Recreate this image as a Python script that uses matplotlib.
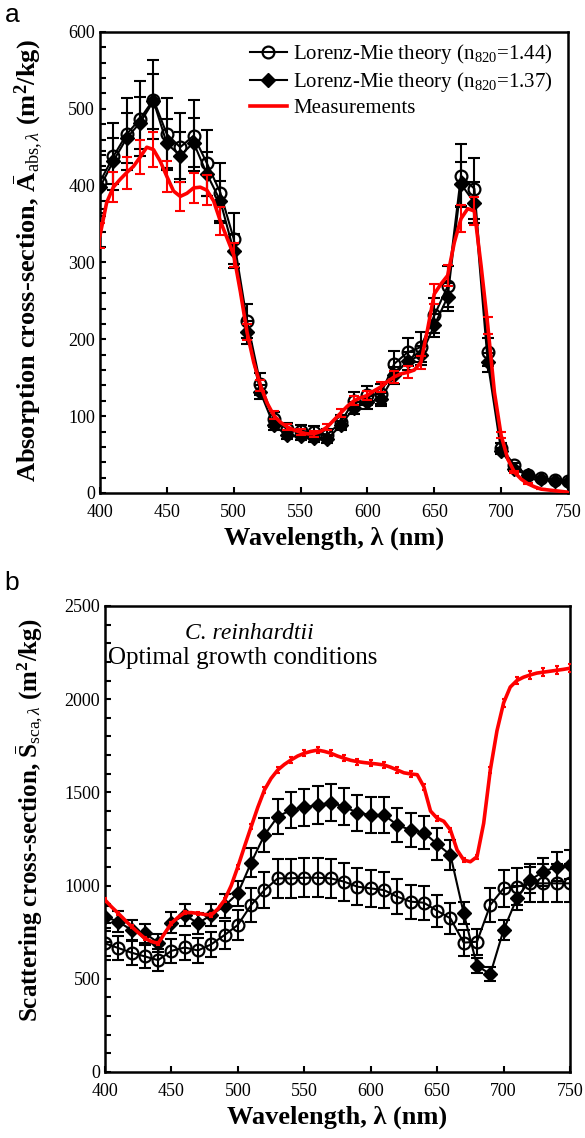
import numpy as np
import matplotlib
matplotlib.use('Agg')
import matplotlib.pyplot as plt
from matplotlib.ticker import MultipleLocator

plt.rcParams['font.family'] = ['Liberation Serif', 'DejaVu Serif']
plt.rcParams['mathtext.fontset'] = 'custom'
plt.rcParams['mathtext.rm'] = 'Liberation Serif'
plt.rcParams['mathtext.it'] = 'Liberation Serif:italic'
plt.rcParams['mathtext.bf'] = 'Liberation Serif:bold'

# wavelengths of the Lorenz-Mie points (nm)
wl = np.arange(400, 751, 10)
# measurement curve wavelengths (nm)
wl_meas = np.arange(400, 751, 5)

# (a) absorption cross-section (m2/kg)
abs_n144 = [405, 438, 467, 487, 512, 467, 450, 465, 429, 391, 331, 224, 142, 96, 83, 81, 79, 76,
            92, 120, 127, 129, 168, 183, 190, 231, 269, 413, 396, 183, 59, 36, 23, 19, 17, 15]
abs_n137 = [398, 432, 462, 482, 510, 455, 439, 456, 415, 380, 315, 209, 131, 88, 75, 74, 72, 70,
            88, 111, 118, 122, 153, 172, 179, 218, 255, 402, 378, 170, 55, 31, 23, 18, 16, 14]
abs_meas = [335, 378, 398, 408, 417, 425, 437, 450, 447, 432, 412, 393, 386, 390, 397, 398, 394, 380,
            354, 332, 310, 262, 209, 170, 140, 117, 101, 92, 86, 82, 79, 77, 77, 80, 86, 95,
            104, 113, 120, 124, 127, 133, 138, 145, 151, 155, 157, 160, 170, 213, 259, 272, 283, 326,
            357, 370, 367, 296, 218, 131, 75, 44, 27, 18, 12, 8, 5, 4, 3, 2, 1]

# (b) scattering cross-section (m2/kg)
sca_n144 = [690, 665, 640, 620, 600, 650, 668, 652, 685, 735, 789, 896, 976, 1039, 1039, 1042, 1042, 1039,
            1021, 994, 985, 976, 940, 914, 908, 865, 824, 694, 699, 896, 985, 994, 1012, 1012, 1012, 1012]
sca_n137 = [833, 806, 762, 744, 694, 801, 842, 798, 842, 891, 959, 1123, 1271, 1370, 1406, 1420, 1432, 1445,
            1423, 1391, 1379, 1379, 1325, 1298, 1284, 1223, 1164, 851, 570, 525, 762, 932, 1030, 1075, 1101, 1111]
sca_meas = [923, 885, 851, 815, 780, 748, 717, 700, 690, 745, 798, 830, 855, 855, 851, 845, 842, 875,
            923, 1000, 1101, 1210, 1316, 1420, 1513, 1575, 1620, 1650, 1674, 1695, 1710, 1720, 1727, 1720,
            1710, 1695, 1683, 1672, 1665, 1660, 1656, 1652, 1647, 1635, 1620, 1605, 1599, 1595, 1530, 1400,
            1361, 1345, 1298, 1191, 1137, 1128, 1155, 1334, 1620, 1830, 1980, 2065, 2100, 2118, 2130, 2140,
            2145, 2150, 2155, 2160, 2166]

lab144 = r'Lorenz-Mie theory (n$_{820}$=1.44)'
lab137 = r'Lorenz-Mie theory (n$_{820}$=1.37)'

fig = plt.figure(figsize=(5.85, 11.38), dpi=100)
ax_a = fig.add_axes([0.1709, 0.5668, 0.8000, 0.4051])
ax_b = fig.add_axes([0.1795, 0.0580, 0.7949, 0.4095])


def draw_panel(ax, th144, th137, meas, err144, err137, errmeas, redcap):
    th144 = np.array(th144, float)
    th137 = np.array(th137, float)
    meas = np.array(meas, float)
    ebkw = dict(fmt='none', elinewidth=1.5, capthick=1.5)
    ax.errorbar(wl, th137, yerr=err137 * th137, ecolor='k', capsize=4, zorder=2, **ebkw)
    ax.errorbar(wl, th144, yerr=err144 * th144, ecolor='k', capsize=4, zorder=2, **ebkw)
    ax.plot(wl, th144, '-o', color='k', lw=1.5, ms=8.5, mfc='none', mec='k', mew=1.6,
            label=lab144, zorder=3)
    ax.plot(wl, th137, '-D', color='k', lw=1.5, ms=7.5, mfc='k', mec='k',
            label=lab137, zorder=3)
    ax.errorbar(wl_meas[::2], meas[::2], yerr=errmeas * meas[::2], ecolor='#ff0000',
                capsize=redcap, zorder=4, **ebkw)
    ax.plot(wl_meas, meas, '-', color='#ff0000', lw=2.6, label='Measurements', zorder=5)

    ax.set_xlim(400, 750)
    ax.xaxis.set_major_locator(MultipleLocator(50))
    for s in ax.spines.values():
        s.set_linewidth(1.8)
    ax.tick_params(which='both', direction='in', top=False, right=False,
                   length=4.5, width=1.5, labelsize=13)
    ax.tick_params(axis='x', pad=8)
    ax.set_xlabel('Wavelength, λ (nm)', fontsize=19, fontweight='bold', labelpad=4)


draw_panel(ax_a, abs_n144, abs_n137, abs_meas, 0.10, 0.07, 0.05, 3.5)
ax_a.set_ylim(0, 600)
ax_a.yaxis.set_major_locator(MultipleLocator(100))
ax_a.yaxis.set_minor_locator(MultipleLocator(20))
ax_a.set_ylabel(r'Absorption cross-section, $\bar{\mathbf{A}}_{\mathrm{abs},\lambda}$ (m$^{\mathbf{2}}$/kg)',
                fontsize=19, fontweight='bold')
ax_a.yaxis.set_label_coords(-0.118, 0.505)
ax_a.legend(loc='upper right', bbox_to_anchor=(0.995, 1.005), frameon=False, fontsize=15,
            handlelength=1.8, handletextpad=0.3, labelspacing=0.2, borderaxespad=0.2)

draw_panel(ax_b, sca_n144, sca_n137, sca_meas, 0.10, 0.07, 0.01, 1.5)
ax_b.set_ylim(0, 2500)
ax_b.yaxis.set_major_locator(MultipleLocator(500))
ax_b.yaxis.set_minor_locator(MultipleLocator(100))
ax_b.set_ylabel(r'Scattering cross-section, $\bar{\mathbf{S}}_{\mathrm{sca},\lambda}$ (m$^{\mathbf{2}}$/kg)',
                fontsize=18, fontweight='bold')
ax_b.yaxis.set_label_coords(-0.129, 0.54)
ax_b.text(0.31, 0.942, 'C. reinhardtii', transform=ax_b.transAxes, ha='center', va='center',
          fontsize=17, style='italic')
ax_b.text(0.006, 0.888, 'Optimal growth conditions', transform=ax_b.transAxes, ha='left',
          va='center', fontsize=18)

fig.text(0.008, 0.987, 'a', family='Liberation Sans', fontsize=19, va='center')
fig.text(0.008, 0.488, 'b', family='Liberation Sans', fontsize=19, va='center')

fig.savefig('out.png', dpi=100)
